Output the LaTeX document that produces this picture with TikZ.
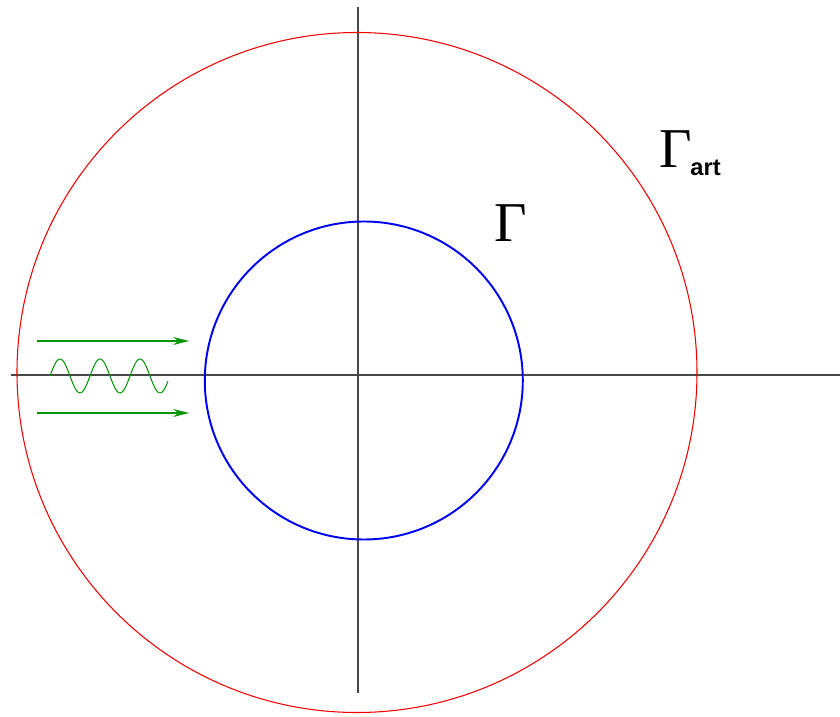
\documentclass[tikz,border=0pt]{standalone}
\usepackage{fontspec}
\usepackage{xcolor}
\usepackage{tikz}
\usetikzlibrary{arrows.meta}
\newfontfamily\labelsans{Liberation Sans}
\newfontfamily\labelserif{Liberation Serif}
\definecolor{cAxis}{HTML}{484848}
\definecolor{cOuter}{HTML}{F00000}
\definecolor{cInner}{HTML}{0000F0}
\definecolor{cWave}{HTML}{0A960A}

\begin{document}
\begin{tikzpicture}[
  x=0.02cm,y=-0.02cm,
  axis/.style={draw=cAxis,line width=0.75pt},
  outer/.style={draw=cOuter,line width=0.6pt},
  inner/.style={draw=cInner,line width=1.1pt},
  ray/.style={draw=cWave,line width=0.6pt,-{Stealth[length=9pt,width=4.5pt]}},
  wave/.style={draw=cWave,line width=0.6pt},
  lbl/.style={inner sep=0pt,font=\labelserif\fontsize{32}{36}\selectfont}
]
\useasboundingbox (0,0) rectangle (840,717);
% axes
\coordinate (xl) at (11,375); \coordinate (xr) at (840,375);
\coordinate (yt) at (358,7);  \coordinate (yb) at (358,693);
\draw[axis] (xl)--(xr);
\draw[axis] (yt)--(yb);
% boundaries
\draw[outer] (357,372.5) circle[radius=340];
\draw[inner] (363.8,380.5) circle[radius=159];
\node[lbl,anchor=base west] (gamma) at (494,241) {Γ};
\node[lbl,anchor=base west] (gart) at (659,167)
     {Γ\kern-0.8pt{\labelsans\bfseries\fontsize{13.5}{16}\selectfont\raisebox{-4.8pt}{art}}};
% incident wave
\coordinate (a1) at (37,341); \coordinate (b1) at (189,341);
\coordinate (a2) at (37,413); \coordinate (b2) at (189,413);
\draw[ray] (a1)--(b1);
\draw[ray] (a2)--(b2);
\draw[wave] plot[domain=50:168,samples=80,smooth] (\x,{376-17*sin((\x-50)*9)});
\end{tikzpicture}
\end{document}
